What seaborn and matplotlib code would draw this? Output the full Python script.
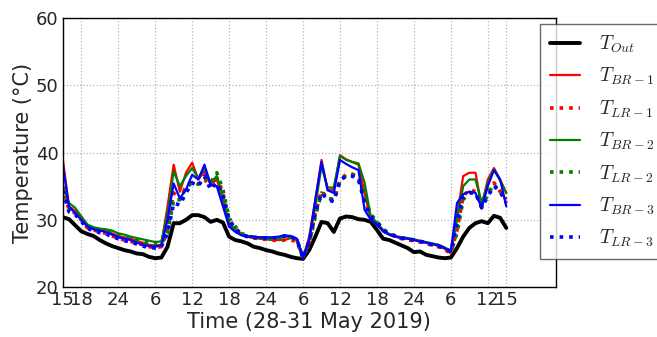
import numpy as np
import pandas as pd
import matplotlib
matplotlib.use("Agg")
import matplotlib.pyplot as plt
import seaborn as sns

# hours since 15:00 on 28 May 2019
hours = list(range(0, 73))

t_out = [30.4, 30.1, 29.2, 28.3, 27.9, 27.6, 27.0, 26.5, 26.1, 25.8,
         25.5, 25.3, 25.0, 24.9, 24.5, 24.3, 24.4, 26.0, 29.5, 29.5,
         30.0, 30.7, 30.7, 30.4, 29.7, 30.0, 29.6, 27.5, 27.0, 26.8,
         26.5, 26.0, 25.8, 25.5, 25.3, 25.0, 24.8, 24.5, 24.3, 24.2,
         25.5, 27.5, 29.7, 29.5, 28.2, 30.2, 30.5, 30.4, 30.1, 30.0,
         29.7, 28.5, 27.2, 27.0, 26.6, 26.2, 25.8, 25.2, 25.3, 24.8,
         24.6, 24.4, 24.3, 24.4, 25.8, 27.5, 28.8, 29.5, 29.8, 29.5,
         30.6, 30.3, 28.8]

t_br1 = [39.0, 32.0, 31.3, 30.5, 29.0, 28.6, 28.4, 28.3, 28.0, 27.6,
         27.4, 27.2, 26.9, 26.6, 26.3, 26.2, 26.3, 32.0, 38.2, 34.2,
         37.0, 38.5, 36.0, 37.2, 35.2, 36.0, 33.0, 29.0, 28.5, 27.8,
         27.5, 27.3, 27.2, 27.1, 27.0, 27.0, 27.0, 27.3, 27.0, 24.3,
         27.5, 33.0, 38.9, 34.4, 34.5, 39.6, 39.0, 38.6, 38.2, 34.0,
         30.0, 29.3, 28.3, 27.8, 27.5, 27.3, 27.2, 27.0, 26.8, 26.6,
         26.4, 26.1, 25.7, 25.0, 30.5, 36.5, 37.0, 37.0, 32.0, 36.0,
         37.7, 36.0, 34.0]

t_lr1 = [35.0, 31.5, 31.0, 30.0, 28.8, 28.5, 28.2, 28.0, 27.6, 27.3,
         27.0, 26.8, 26.5, 26.3, 26.0, 25.9, 26.0, 28.5, 34.0, 33.0,
         35.0, 35.8, 35.3, 36.0, 35.0, 36.3, 34.0, 30.0, 28.8, 27.9,
         27.5, 27.3, 27.2, 27.1, 27.0, 26.9, 27.0, 27.0, 26.8, 24.3,
         26.5, 31.0, 34.3, 33.2, 33.0, 35.8, 36.8, 36.8, 36.4, 33.0,
         30.5, 29.6, 28.5, 27.9, 27.5, 27.2, 27.0, 26.9, 26.7, 26.5,
         26.2, 26.0, 25.6, 25.0, 28.5, 33.5, 34.5, 34.2, 31.8, 34.0,
         35.5, 34.2, 33.0]

t_br2 = [35.0, 32.5, 31.8, 30.5, 29.3, 28.9, 28.7, 28.6, 28.4, 28.0,
         27.8, 27.5, 27.3, 27.1, 26.9, 26.7, 26.8, 31.0, 37.2, 35.0,
         36.5, 37.7, 36.2, 37.7, 35.5, 36.5, 33.5, 29.5, 28.6, 27.9,
         27.6, 27.5, 27.4, 27.3, 27.3, 27.3, 27.5, 27.5, 27.2, 24.5,
         27.0, 32.0, 38.0, 34.8, 34.8, 39.5, 38.9, 38.6, 38.4, 35.5,
         30.5, 29.6, 28.5, 27.9, 27.6, 27.4, 27.3, 27.1, 26.9, 26.7,
         26.5, 26.3, 25.9, 25.4, 30.0, 35.0, 36.0, 36.0, 32.5, 35.5,
         37.5, 35.8, 34.0]

t_lr2 = [34.5, 31.8, 31.3, 30.3, 29.0, 28.7, 28.5, 28.3, 28.0, 27.7,
         27.5, 27.2, 27.0, 26.8, 26.5, 26.3, 26.5, 28.0, 33.0, 33.0,
         34.8, 35.5, 35.3, 36.2, 35.5, 37.0, 34.5, 30.2, 29.0, 28.0,
         27.6, 27.4, 27.3, 27.2, 27.1, 27.1, 27.3, 27.4, 27.0, 24.4,
         26.5, 30.5, 34.0, 33.2, 33.0, 35.7, 36.6, 36.7, 36.3, 33.5,
         30.8, 29.8, 28.6, 28.0, 27.6, 27.3, 27.1, 27.0, 26.8, 26.6,
         26.3, 26.1, 25.7, 25.2, 28.0, 33.0, 34.0, 34.0, 32.0, 33.8,
         35.3, 34.0, 33.5]

t_br3 = [38.2, 32.0, 31.0, 30.0, 29.0, 28.6, 28.4, 28.2, 27.8, 27.4,
         27.2, 27.0, 26.6, 26.3, 26.1, 26.0, 26.2, 30.0, 35.4, 33.2,
         34.5, 36.7, 36.0, 38.2, 35.2, 35.0, 32.0, 29.0, 28.2, 27.7,
         27.5, 27.5, 27.4, 27.4, 27.4, 27.5, 27.7, 27.6, 27.2, 24.3,
         27.0, 33.0, 38.6, 34.4, 34.0, 38.9, 38.3, 37.8, 37.4, 31.5,
         30.0, 29.3, 28.3, 27.8, 27.5, 27.3, 27.2, 27.0, 26.8, 26.6,
         26.4, 26.2, 25.8, 25.3, 32.5, 33.8, 34.2, 34.0, 31.8, 35.0,
         37.4, 36.0, 32.0]

t_lr3 = [34.3, 31.2, 30.8, 29.8, 28.7, 28.4, 28.1, 27.9, 27.5, 27.2,
         26.9, 26.7, 26.4, 26.1, 25.9, 25.8, 26.0, 28.0, 32.5, 32.2,
         34.0, 35.5, 35.0, 36.5, 34.5, 35.5, 33.5, 30.0, 28.6, 27.8,
         27.5, 27.4, 27.3, 27.3, 27.3, 27.4, 27.6, 27.5, 27.1, 24.3,
         26.8, 31.0, 34.0, 33.0, 32.7, 35.9, 36.5, 36.5, 36.0, 32.5,
         30.5, 29.6, 28.4, 27.9, 27.6, 27.3, 27.2, 27.0, 26.8, 26.6,
         26.3, 26.1, 25.8, 25.3, 29.5, 33.5, 34.0, 34.0, 31.8, 33.5,
         35.0, 34.2, 32.5]

tick_hours = [0, 3, 9, 15, 21, 27, 33, 39, 45, 51, 57, 63, 69, 72]
tick_labels = ["15", "18", "24", "6", "12", "18", "24", "6", "12", "18",
               "24", "6", "12", "15"]

series = [
    ("$T_{Out}$", t_out, "black", "-", 2.8),
    ("$T_{BR-1}$", t_br1, "red", "-", 1.6),
    ("$T_{LR-1}$", t_lr1, "red", ":", 2.6),
    ("$T_{BR-2}$", t_br2, "green", "-", 1.6),
    ("$T_{LR-2}$", t_lr2, "green", ":", 2.6),
    ("$T_{BR-3}$", t_br3, "blue", "-", 1.6),
    ("$T_{LR-3}$", t_lr3, "blue", ":", 2.6),
]

sns.set_style("white")
plt.rcParams["font.family"] = ["DejaVu Sans"]
plt.rcParams["mathtext.fontset"] = "cm"

fig = plt.figure(figsize=(6.57, 3.37), dpi=100)
ax = fig.add_axes([0.0956, 0.148, 0.75, 0.7986])

for name, vals, col, ls, lw in series:
    df = pd.DataFrame({"h": hours, "v": vals})
    sns.lineplot(data=df, x="h", y="v", ax=ax, color=col, linestyle=ls,
                 linewidth=lw, label=name, legend=False)

ax.set_xlim(0, 80)
ax.set_ylim(20, 60)
ax.set_yticks([20, 30, 40, 50, 60])
ax.set_xticks(tick_hours)
ax.set_xticklabels(tick_labels)
ax.tick_params(axis="both", direction="in", labelsize=13, length=4,
               color="black", pad=3)
ax.grid(True, color="#b5b5b5", linestyle=":", linewidth=0.9)
for s in ax.spines.values():
    s.set_color("black")
    s.set_linewidth(1.0)
ax.set_xlabel("Time (28-31 May 2019)", fontsize=15, labelpad=2)
ax.set_ylabel("Temperature (°C)", fontsize=15, labelpad=2)

handles, labels = ax.get_legend_handles_labels()
leg = fig.legend(handles, labels, loc="upper left",
                 bbox_to_anchor=(540 / 657, 1 - 24 / 337),
                 bbox_transform=fig.transFigure, fontsize=14,
                 frameon=True, fancybox=False, handlelength=1.55,
                 labelspacing=0.57, borderpad=0.5, handletextpad=1.0,
                 borderaxespad=0)
leg.get_frame().set_edgecolor("#444444")
leg.get_frame().set_linewidth(1.0)

fig.savefig("out.png", dpi=100)
